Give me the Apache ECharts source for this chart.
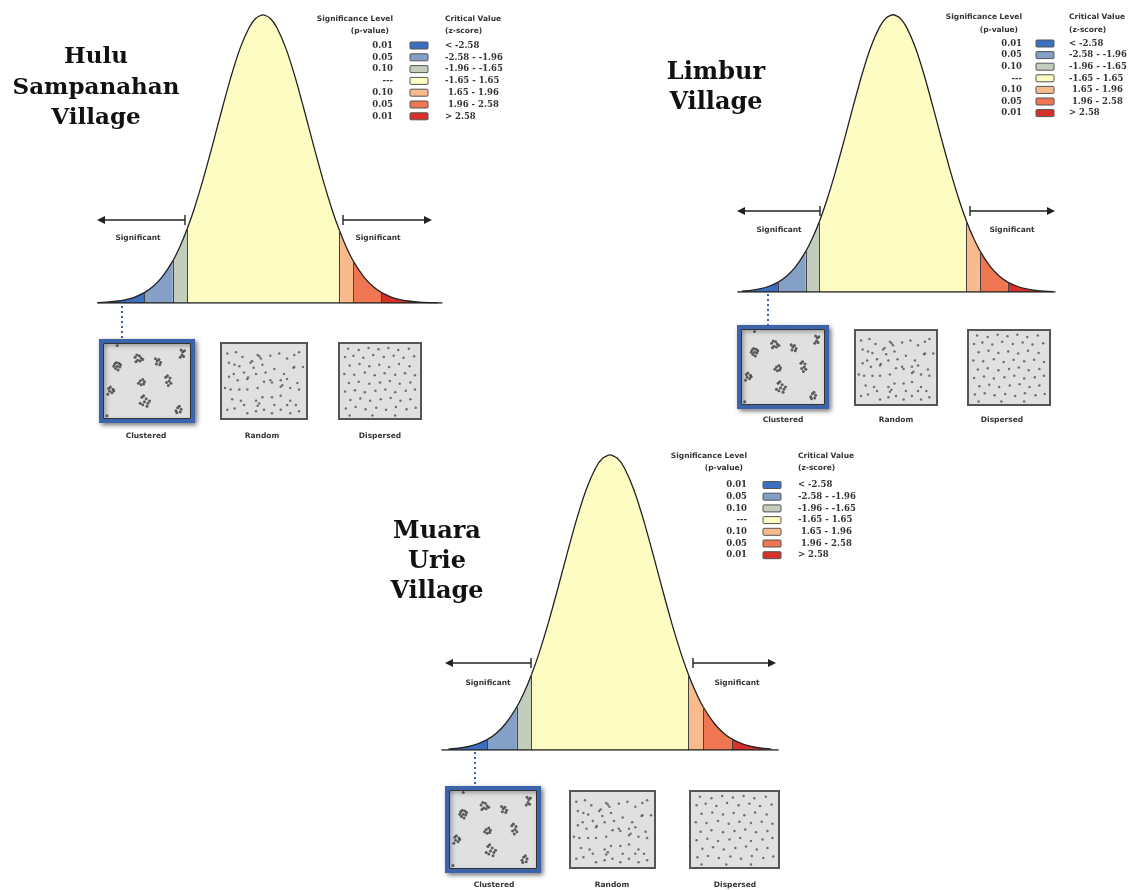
<!DOCTYPE html>
<html><head><meta charset="utf-8">
<script src="https://cdn.jsdelivr.net/npm/echarts@6/dist/echarts.min.js"></script>
<style>html,body{margin:0;padding:0;background:#fff}#c{width:1132px;height:890px}</style>
</head><body><div id="c"></div>
<script>
// ---- data ----
const zPts = [-3.6,-3.4,-3.2,-3.0,-2.8,-2.58,-2.4,-2.2,-1.96,-1.8,-1.65,-1.5,-1.3,-1.1,-0.9,-0.7,-0.5,-0.3,-0.15,0,0.15,0.3,0.5,0.7,0.9,1.1,1.3,1.5,1.65,1.8,1.96,2.2,2.4,2.58,2.8,3.0,3.2,3.4,3.6,3.8];
const pdfVals = [0.0006,0.0012,0.0024,0.0044,0.0079,0.0143,0.0224,0.0355,0.0584,0.0790,0.1023,0.1295,0.1714,0.2179,0.2661,0.3123,0.3521,0.3814,0.3945,0.3989,0.3945,0.3814,0.3521,0.3123,0.2661,0.2179,0.1714,0.1295,0.1023,0.0790,0.0584,0.0355,0.0224,0.0143,0.0079,0.0044,0.0024,0.0012,0.0006,0.0003];
const bounds = [-2.58,-1.96,-1.65,1.65,1.96,2.58];
const segColors = ['#3d6fc0','#84a0c6','#c2cdbd','#fdfcc3','#f9bb8d','#ef7652','#d8302a'];
const pValues = ['0.01','0.05','0.10','---','0.10','0.05','0.01'];
const critValues = ['< -2.58','-2.58 - -1.96','-1.96 - -1.65','-1.65 - 1.65',' 1.65 - 1.96',' 1.96 - 2.58','> 2.58'];
const boxLabels = ['Clustered','Random','Dispersed'];
const clustered = [[12,27],[14,25],[17,26],[15,30],[18,31],[13,33],[16,35],[19,28],[11,30],
 [36,18],[38,15],[41,16],[43,19],[39,22],[42,23],[45,21],[37,24],
 [60,20],[62,23],[64,21],[66,25],[61,27],[65,28],
 [90,8],[92,11],[94,9],[91,15],[93,17],[89,18],
 [40,53],[42,50],[45,48],[47,51],[43,55],[46,54],
 [72,45],[74,43],[77,46],[76,50],[73,52],[78,53],[75,56],
 [5,60],[7,58],[10,61],[6,64],[9,66],[4,68],[11,63],
 [44,72],[46,70],[49,74],[47,78],[51,80],[45,82],[53,77],[50,84],[42,80],
 [84,90],[86,86],[88,84],[90,88],[85,93],[89,92],
 [15,2],[3,97]];
const randomPts = [[4,11],[15,9],[23,16],[42,13],[46,18],[58,14],[69,11],[79,18],[88,13],[94,9],
 [6,24],[13,27],[19,29],[33,24],[37,31],[48,27],[25,38],[40,40],[52,38],[63,33],[75,40],[87,31],
 [6,44],[17,49],[29,47],[50,51],[58,49],[71,49],[79,47],[92,53],
 [8,62],[19,62],[29,62],[42,60],[71,58],[83,60],[94,62],
 [10,76],[21,78],[40,78],[48,73],[60,73],[71,71],[83,78],[90,84],
 [4,91],[13,89],[29,96],[40,93],[50,91],[60,96],[71,91],[83,96],[94,93],[25,84],[44,82],[63,84],[79,84],
 [35,22],[44,15],[60,52],[73,56],[88,30],[30,45],[42,85],[12,40],[1,60],[99,30]];
const dispersed = [[8,4],[22,6],[35,3],[48,5],[61,3],[74,6],[88,4],
 [4,16],[15,14],[28,17],[41,13],[55,16],[68,14],[81,17],[95,15],
 [10,28],[23,26],[36,29],[49,27],[62,30],[75,26],[89,29],
 [3,40],[16,41],[30,38],[43,42],[56,39],[70,41],[83,39],[96,42],
 [9,53],[22,51],[36,54],[50,52],[63,50],[76,54],[90,52],
 [4,65],[17,63],[30,66],[44,64],[57,62],[70,66],[84,64],[96,62],
 [11,77],[24,75],[37,78],[51,76],[64,74],[77,78],[90,76],
 [5,89],[18,87],[31,90],[45,88],[58,91],[71,87],[85,90],[97,88],
 [10,99],[40,99],[70,99]];
const boxPoints = [clustered, randomPts, dispersed];

// ---- layout ----
const panels = [
 {cx:263, scale:46, base:303, top:14, base0:-3.6, base1:3.9,
  leg:{pr:393, sw:410, tx:445, hy:19, py:31, row0:45.5, step:11.8},
  ay:220, lTick:185, lEnd:97, rTick:343, rEnd:432, sigL:[138,238], sigR:[378,238], rnd:[263,221],
  boxes:[[101,341,92,80],[221,343,86,76],[339,343,82,76]], labY:436, labX:[146,262,380], dot:[122,306,338],
  title:{lines:['Hulu','Sampanahan','Village'], x:96, ys:[57,88,118], size:23, align:'center'}},
 {cx:893, scale:44.5, base:292, top:14, base0:-3.5, base1:3.65,
  leg:{pr:1022, sw:1036, tx:1069, hy:17, py:30, row0:43.5, step:11.6},
  ay:211, lTick:820, lEnd:737, rTick:970, rEnd:1055, sigL:[779,230], sigR:[1012,230], rnd:[893,213],
  boxes:[[739,327,88,80],[855,330,82,75],[968,330,82,75]], labY:420, labX:[783,896,1002], dot:[768,294,325],
  title:{lines:['Limbur','Village'], x:716, ys:[73,103], size:24, align:'center'}},
 {cx:610, scale:47.5, base:750, top:454, base0:-3.55, base1:3.55,
  leg:{pr:747, sw:763, tx:798, hy:456, py:468, row0:485, step:11.7},
  ay:663, lTick:531, lEnd:445, rTick:693, rEnd:776, sigL:[488,683], sigR:[737,683], rnd:[608,665],
  boxes:[[447,788,92,83],[570,791,85,77],[690,791,89,77]], labY:885, labX:[494,612,735], dot:[475,752,786],
  title:{lines:['Muara','Urie','Village'], x:437, ys:[532,562,592], size:24, align:'center'}}
];

const grids = [], xAxes = [], yAxes = [], series = [], graphics = [];
const curvePairs = zPts.map((z,i)=>[z,pdfVals[i]]);
const pdfAt = z => pdfVals[zPts.indexOf(z)];
const segEdges = [-Infinity, ...bounds, Infinity];
const hdrFont = "bold 7.5px 'DejaVu Sans'";
const valFont = "bold 8.5px 'DejaVu Serif'";

function txt(text, x, y, font, align, color){
  graphics.push({type:'text', silent:true, style:{text, x, y, font, textAlign:align||'left', textVerticalAlign:'middle', fill:color||'#333'}});
}
function line(x1,y1,x2,y2,stroke,w,dash){
  graphics.push({type:'line', silent:true, shape:{x1,y1,x2,y2}, style:{stroke, lineWidth:w, lineDash:dash||null}});
}
function arrowHead(x,y,dir){
  graphics.push({type:'polygon', silent:true, shape:{points:[[x,y],[x-dir*8,y-4],[x-dir*8,y+4]]}, style:{fill:'#222'}});
}

panels.forEach((p, pi) => {
  const gi = grids.length;
  const pts = curvePairs.filter(d => d[0] >= p.base0 - 0.01 && d[0] <= p.base1 + 0.01);
  grids.push({left:p.cx-4*p.scale, width:8*p.scale, top:p.top, height:p.base-p.top});
  xAxes.push({gridIndex:gi, type:'value', min:-4, max:4, show:false});
  yAxes.push({gridIndex:gi, type:'value', min:0, max:0.4, show:false});
  segColors.forEach((col, si) => {
    const lo = segEdges[si], hi = segEdges[si+1];
    series.push({type:'line', xAxisIndex:gi, yAxisIndex:gi, silent:true, showSymbol:false, smooth:0.2,
      data: pts.filter(d => d[0] >= lo && d[0] <= hi),
      lineStyle:{width:0}, areaStyle:{color:col, opacity:1}, z:2});
  });
  series.push({type:'line', xAxisIndex:gi, yAxisIndex:gi, silent:true, showSymbol:false, smooth:0.2,
    data: pts, lineStyle:{color:'#222', width:1.3}, z:4,
    markLine:{silent:true, symbol:'none', label:{show:false}, lineStyle:{color:'#444', width:1, type:'solid'},
      data: bounds.map(b => [{coord:[b,0]},{coord:[b,pdfAt(b)]}])}});
  series.push({type:'line', xAxisIndex:gi, yAxisIndex:gi, silent:true, showSymbol:false,
    data:[[p.base0,0],[p.base1,0]], lineStyle:{color:'#222', width:1.5}, z:5});

  p.boxes.forEach((b, bi) => {
    const g = grids.length;
    const isC = bi === 0;
    grids.push({left:b[0], top:b[1], width:b[2], height:b[3], show:true, backgroundColor:'#e0e0e0',
      borderColor: isC ? '#3b64ad' : '#555', borderWidth: isC ? 4 : 2,
      shadowBlur: isC ? 5 : 0, shadowColor:'rgba(0,0,0,0.45)', shadowOffsetX: isC?2:0, shadowOffsetY: isC?2:0});
    xAxes.push({gridIndex:g, type:'value', min:-4, max:104, show:false});
    yAxes.push({gridIndex:g, type:'value', min:-4, max:104, inverse:true, show:false});
    series.push({type:'scatter', xAxisIndex:g, yAxisIndex:g, silent:true, symbolSize: isC ? 3 : 2.5,
      itemStyle:{color: isC ? '#3c3c3c' : '#555'}, data: boxPoints[bi], z:6});
    if (isC) graphics.push({type:'rect', silent:true, z:10, shape:{x:b[0]+2.5, y:b[1]+2.5, width:b[2]-5, height:b[3]-5},
      style:{fill:null, stroke:'#333', lineWidth:1}});
    txt(boxLabels[bi], p.labX[bi], p.labY, "bold 7.5px 'DejaVu Sans'", 'center', '#333');
  });

  line(p.dot[0], p.dot[1], p.dot[0], p.dot[2], '#3d5fa6', 2, [2,3]);

  line(p.lTick, p.ay, p.lEnd+6, p.ay, '#222', 1.6); arrowHead(p.lEnd, p.ay, -1);
  line(p.lTick, p.ay-5, p.lTick, p.ay+5, '#222', 1.4);
  line(p.rTick, p.ay, p.rEnd-6, p.ay, '#222', 1.6); arrowHead(p.rEnd, p.ay, 1);
  line(p.rTick, p.ay-5, p.rTick, p.ay+5, '#222', 1.4);
  txt('Significant', p.sigL[0], p.sigL[1], hdrFont, 'center');
  txt('Significant', p.sigR[0], p.sigR[1], hdrFont, 'center');
  txt('(Random)', p.rnd[0], p.rnd[1], hdrFont, 'center');

  const L = p.leg;
  txt('Significance Level', L.pr, L.hy, hdrFont, 'right');
  txt('(p-value)', L.pr-4, L.py, hdrFont, 'right');
  txt('Critical Value', L.tx, L.hy, hdrFont, 'left');
  txt('(z-score)', L.tx, L.py, hdrFont, 'left');
  pValues.forEach((pv, i) => {
    const y = L.row0 + i*L.step;
    txt(pv, L.pr, y, valFont, 'right');
    graphics.push({type:'rect', silent:true, shape:{x:L.sw, y:y-3.5, width:18, height:7, r:1},
      style:{fill:segColors[i], stroke:'#555', lineWidth:1}});
    txt(critValues[i], L.tx, y, valFont, 'left');
  });

  const T = p.title;
  T.lines.forEach((s, i) => txt(s, T.x, T.ys[i], `bold ${T.size}px 'DejaVu Serif'`, T.align, '#111'));
});

const chart = echarts.init(document.getElementById('c'), null, {renderer:'canvas'});
chart.setOption({animation:false, backgroundColor:'#fff', grid:grids, xAxis:xAxes, yAxis:yAxes, series, graphic:graphics});
</script></body></html>
